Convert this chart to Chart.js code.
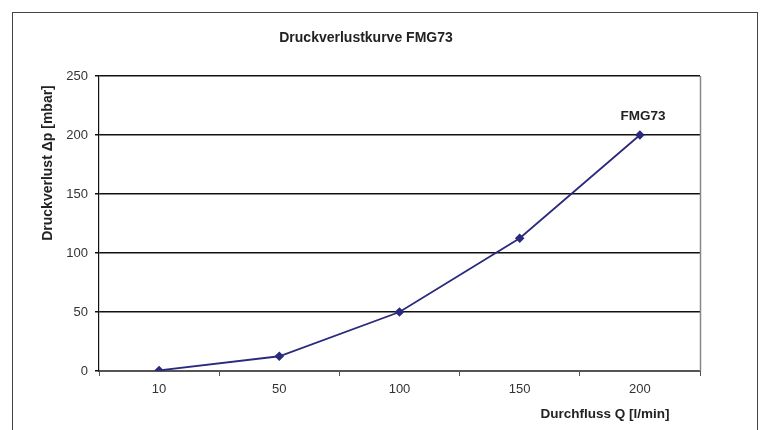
<!DOCTYPE html>
<html>
<head>
<meta charset="utf-8">
<script src="https://cdn.jsdelivr.net/npm/chart.js@4"></script>
<style>
  html, body { margin: 0; padding: 0; background: #fff; }
  #wrap { width: 762px; height: 430px; }
</style>
</head>
<body>
<div id="wrap"><canvas id="myChart" width="762" height="430"></canvas></div>
<script>
const categories = ["10", "50", "100", "150", "200"];
const pressureLoss = [0.5, 12.5, 50, 112.5, 200];
const yTicks = [0, 50, 100, 150, 200, 250];
const seriesName = "FMG73";

const lineColor = "#2b2a7c";
const fontFamily = "'Liberation Sans', Arial, sans-serif";

// frame, titles and the series label
const decorations = {
  id: "decorations",
  beforeDraw(chart) {
    const ctx = chart.ctx;
    ctx.save();
    ctx.fillStyle = "#fff";
    ctx.fillRect(0, 0, chart.width, chart.height);
    ctx.restore();
  },
  afterDraw(chart) {
    const { ctx, chartArea } = chart;
    ctx.save();
    // outer frame
    ctx.strokeStyle = "#444";
    ctx.lineWidth = 1;
    ctx.strokeRect(12.5, 12.5, 745, 440);
    // right border of plot area
    ctx.strokeStyle = "#888";
    ctx.lineWidth = 1.5;
    ctx.beginPath();
    ctx.moveTo(chartArea.right + 0.5, chartArea.top);
    ctx.lineTo(chartArea.right + 0.5, chartArea.bottom);
    ctx.stroke();

    ctx.fillStyle = "#222";
    ctx.textBaseline = "middle";
    ctx.textAlign = "center";
    ctx.font = "bold 14px " + fontFamily;
    ctx.fillText("Druckverlustkurve FMG73", 366, 38);
    ctx.font = "bold 13.5px " + fontFamily;
    ctx.fillText("Durchfluss Q [l/min]", 605, 414);

    ctx.save();
    ctx.translate(48, 163);
    ctx.rotate(-Math.PI / 2);
    ctx.font = "bold 14px " + fontFamily;
    ctx.fillText("Druckverlust \u0394p [mbar]", 0, 0);
    ctx.restore();

    const meta = chart.getDatasetMeta(0);
    const last = meta.data[meta.data.length - 1];
    ctx.font = "bold 13.5px " + fontFamily;
    ctx.fillText(seriesName, last.x + 3, last.y - 19);
    ctx.restore();
  },
};

const config = {
  type: "line",
  data: {
    labels: categories,
    datasets: [
      {
        label: seriesName,
        data: pressureLoss,
        borderColor: lineColor,
        backgroundColor: lineColor,
        borderWidth: 1.8,
        pointStyle: "rectRot",
        pointRadius: 3.5,
        pointBackgroundColor: lineColor,
        pointBorderColor: lineColor,
        tension: 0,
      },
    ],
  },
  options: {
    responsive: false,
    animation: false,
    layout: {
      padding: { left: 0, top: 76, right: 62, bottom: 0 },
    },
    plugins: {
      legend: { display: false },
      title: { display: false },
      tooltip: { enabled: false },
    },
    scales: {
      x: {
        type: "category",
        offset: true,
        afterFit: (scale) => {
          scale.height = 59;
        },
        border: { display: true, color: "#555", width: 2 },
        grid: {
          offset: true,
          drawOnChartArea: false,
          drawTicks: true,
          tickLength: 5,
          color: "#555",
        },
        ticks: {
          color: "#333",
          padding: 6,
          font: { family: fontFamily, size: 13 },
        },
      },
      y: {
        min: 0,
        max: 250,
        afterFit: (scale) => {
          scale.width = 99;
        },
        afterBuildTicks: (scale) => {
          scale.ticks = yTicks.map((v) => ({ value: v }));
        },
        border: { display: true, color: "#111", width: 1.2 },
        grid: {
          color: "#111",
          lineWidth: 1.5,
          drawTicks: true,
          tickLength: 4,
        },
        ticks: {
          color: "#333",
          padding: 7,
          font: { family: fontFamily, size: 13 },
        },
      },
    },
  },
  plugins: [decorations],
};

const myChart = new Chart(document.getElementById("myChart"), config);
</script>
</body>
</html>
